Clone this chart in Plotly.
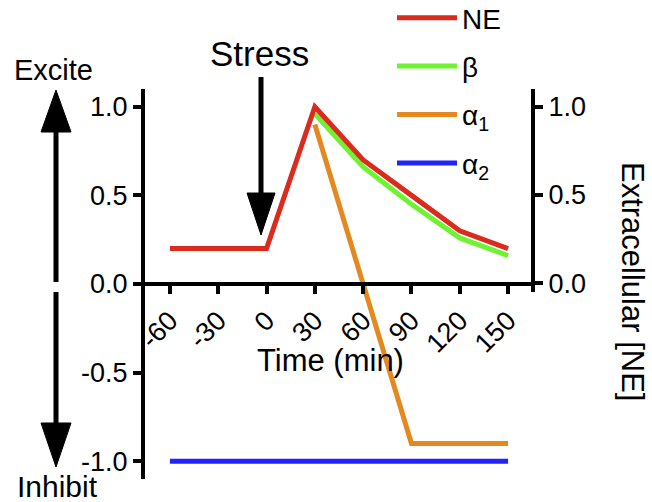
import plotly.graph_objects as go

# Time points (min) and normalised responses
time_ne = [-60, 0, 30, 60, 90, 120, 150]
ne = [0.2, 0.2, 1.0, 0.7, 0.5, 0.3, 0.2]

time_beta = [30, 60, 90, 120, 150]
beta = [0.96, 0.66, 0.45, 0.26, 0.16]

time_a1 = [30, 90, 150]
alpha1 = [0.9, -0.9, -0.9]

time_a2 = [-60, 150]
alpha2 = [-1.0, -1.0]

x_ticks = [-60, -30, 0, 30, 60, 90, 120, 150]
x_ticktext = ["-60", "-30", "0", "30", "60", "90", "120", "150"]
y_ticks = [-1.0, -0.5, 0.0, 0.5, 1.0]
y_ticktext = ["-1.0", "-0.5", "0.0", "0.5", "1.0"]
y2_ticks = [0.0, 0.5, 1.0]
y2_ticktext = ["0.0", "0.5", "1.0"]

W, H = 652, 502
L, R, T, B = 145, 533, 89, 479
FONT = "Arial, Liberation Sans, sans-serif"


def px(xp):
    return (xp - L) / (R - L)


def py(yp):
    return (B - yp) / (B - T)


fig = go.Figure()

series = [
    ("α<sub>2</sub>", time_a2, alpha2, "#2222ff", 4),
    ("α<sub>1</sub>", time_a1, alpha1, "#e3891f", 3),
    ("β", time_beta, beta, "#6ef232", 2),
    ("NE", time_ne, ne, "#db2a1e", 1),
]
for name, xs, ys, col, rank in series:
    fig.add_trace(go.Scatter(
        x=xs, y=ys, mode="lines", name=name,
        line=dict(color=col, width=5),
        legendrank=rank, legendgroup=name,
    ))

# carrier trace for the right-hand extracellular axis
fig.add_trace(go.Scatter(x=[None], y=[None], yaxis="y2", showlegend=False,
                         hoverinfo="skip"))

axis_common = dict(
    showline=True, linecolor="black", linewidth=4,
    ticks="outside", tickcolor="black", tickwidth=4, ticklen=8,
    showgrid=False, zeroline=False,
    tickfont=dict(family=FONT, size=27, color="black"),
)

fig.update_layout(
    width=W, height=H,
    margin=dict(l=L, r=W - R, t=T, b=H - B, autoexpand=False),
    paper_bgcolor="white", plot_bgcolor="rgba(0,0,0,0)",
    font=dict(family=FONT, color="black"),
    xaxis=dict(
        range=[-75.5, 165.5], tickvals=x_ticks, ticktext=x_ticktext,
        tickangle=-45, anchor="free", position=0.5, automargin=False,
        **axis_common,
    ),
    yaxis=dict(
        range=[-1.1, 1.1], tickvals=y_ticks, ticktext=y_ticktext,
        automargin=False, **axis_common,
    ),
    yaxis2=dict(
        range=[-0.05, 1.1], domain=[py(292), 1.0],
        tickvals=y2_ticks, ticktext=y2_ticktext, automargin=False,
        anchor="free", position=1.0, side="right", **axis_common,
    ),
    legend=dict(
        x=px(392), y=py(-7), xanchor="left", yanchor="top",
        bgcolor="rgba(0,0,0,0)", font=dict(family=FONT, size=28),
        traceorder="grouped", tracegroupgap=9, itemwidth=60,
    ),
    showlegend=True,
)

annots = [
    dict(text="Stress", x=px(259), y=py(53), size=35, angle=0),
    dict(text="Excite", x=px(53), y=py(70), size=29, angle=0),
    dict(text="Inhibit", x=px(57), y=py(486), size=30, angle=0),
    dict(text="Time (min)", x=px(330), y=py(360), size=31, angle=0),
    dict(text="Extracellular [NE]", x=px(633), y=py(281), size=31, angle=90),
]
for a in annots:
    fig.add_annotation(
        text=a["text"], x=a["x"], y=a["y"], xref="paper", yref="paper",
        xanchor="center", yanchor="middle", showarrow=False,
        textangle=a["angle"], font=dict(family=FONT, size=a["size"], color="black"),
    )


def arrow(xc, y_start, y_base, y_tip, half=15):
    fig.add_shape(type="line", xref="paper", yref="paper",
                  x0=px(xc), x1=px(xc), y0=py(y_start), y1=py(y_base),
                  line=dict(color="black", width=5))
    path = "M {:.4f},{:.4f} L {:.4f},{:.4f} L {:.4f},{:.4f} Z".format(
        px(xc - half), py(y_base), px(xc + half), py(y_base), px(xc), py(y_tip))
    fig.add_shape(type="path", xref="paper", yref="paper", path=path,
                  fillcolor="black", line=dict(color="black", width=1))


arrow(56, 282, 132, 90)     # excite
arrow(56, 292, 423, 467)    # inhibit
arrow(261, 77, 193, 235, half=14)  # stress onset

fig.write_html("out.html")
